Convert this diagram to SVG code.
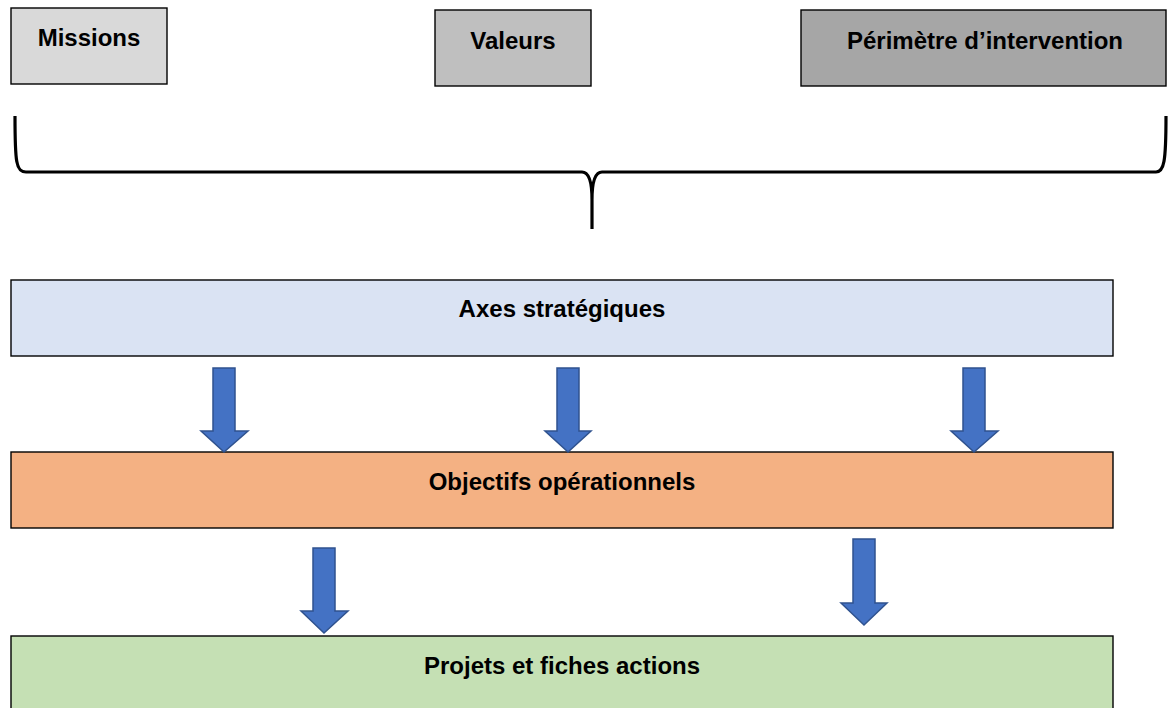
<svg xmlns="http://www.w3.org/2000/svg" width="1168" height="708" viewBox="0 0 1168 708">
<style>
.box{stroke:#000;stroke-width:1.4}
.lbl{font-family:"Liberation Sans",Arial,sans-serif;font-weight:bold;font-size:24px;fill:#000;text-anchor:middle}
.arr{fill:#4472C4;stroke:#2F528F;stroke-width:1.5;stroke-linejoin:miter}
.brace{fill:none;stroke:#000;stroke-width:3.2}
</style>
<rect width="1168" height="708" fill="#fff"/>
<g id="missions"><rect class="box" x="11" y="8" width="156" height="76" fill="#D9D9D9"/><text class="lbl" x="89" y="46">Missions</text></g>
<g id="valeurs"><rect class="box" x="435" y="10" width="156" height="76" fill="#BFBFBF"/><text class="lbl" x="513" y="49">Valeurs</text></g>
<g id="perimetre"><rect class="box" x="801" y="10" width="365" height="76" fill="#A6A6A6"/><text class="lbl" x="985" y="49">Périmètre d’intervention</text></g>
<g id="brace"><path class="brace" d="M15,116 C15,162 16,172 26,172 L582,172 C590,172 592,185 592,200 L592,229 M592,200 C592,185 594,172 602,172 L1156,172 C1164,172 1166,162 1166,116"/></g>
<g id="axes"><rect class="box" x="11" y="280" width="1102" height="76" fill="#DAE3F3"/><text class="lbl" x="562" y="317">Axes stratégiques</text></g>
<g id="objectifs"><rect class="box" x="11" y="452" width="1102" height="76" fill="#F4B183"/><text class="lbl" x="562" y="490">Objectifs opérationnels</text></g>
<g id="projets"><rect class="box" x="11" y="636" width="1102" height="80" fill="#C5E0B4"/><text class="lbl" x="562" y="674">Projets et fiches actions</text></g>
<g id="connectors">
<polygon class="arr" points="213,368 235,368 235,431 248,431 224,452 201,431 213,431"/>
<polygon class="arr" points="557,368 579,368 579,431 591,431 568,452 545,431 557,431"/>
<polygon class="arr" points="963,368 985,368 985,431 998,431 974,452 951,431 963,431"/>
<polygon class="arr" points="313,548 335,548 335,611 348,611 324,633 301,611 313,611"/>
<polygon class="arr" points="853,539 875,539 875,603 887,603 864,625 841,603 853,603"/>
</g>
</svg>
